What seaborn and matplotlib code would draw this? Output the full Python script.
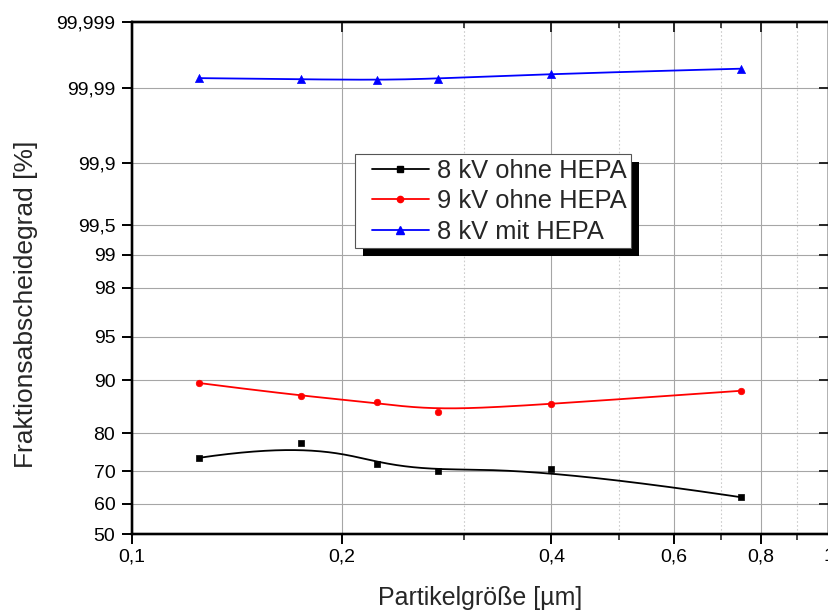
import math
import numpy as np
import pandas as pd
import matplotlib
matplotlib.use("Agg")
import matplotlib.pyplot as plt
import seaborn as sns
from matplotlib.ticker import FixedLocator, FixedFormatter, NullFormatter, NullLocator
from matplotlib.lines import Line2D
from matplotlib.legend_handler import HandlerLine2D
from matplotlib.patches import Rectangle

# ---------------- data ----------------
size_um = [0.125, 0.175, 0.225, 0.275, 0.4, 0.75]
eff_8kV_ohne = [73.8, 77.7, 72.2, 70.0, 70.7, 62.1]
eff_9kV_ohne = [89.6, 87.5, 86.4, 84.6, 86.1, 88.4]
eff_8kV_mit = [99.9927, 99.9924, 99.9922, 99.99255, 99.9937, 99.9947]
series_names = ["8 kV ohne HEPA", "9 kV ohne HEPA", "8 kV mit HEPA"]

x_ticks = [0.1, 0.2, 0.4, 0.6, 0.8, 1.0]
x_tick_labels = ["0,1", "0,2", "0,4", "0,6", "0,8", "1"]
x_minor_ticks = [0.3, 0.5, 0.7, 0.9]
y_ticks = [50, 60, 70, 80, 90, 95, 98, 99, 99.5, 99.9, 99.99, 99.999]
y_tick_labels = ["50", "60", "70", "80", "90", "95", "98", "99", "99,5", "99,9", "99,99", "99,999"]

x_label = "Partikelgröße [µm]"
y_label = "Fraktionsabscheidegrad [%]"

# ---------------- probability (probit) scale ----------------
_erf = np.vectorize(math.erf)


def norm_cdf(z):
    z = np.asarray(z, dtype=float)
    return 0.5 * (1.0 + _erf(z / math.sqrt(2.0)))


def norm_ppf(p):
    p = np.asarray(p, dtype=float)
    shape = p.shape
    p = np.clip(np.atleast_1d(p).astype(float), 1e-12, 1 - 1e-12)
    a = [-3.969683028665376e+01, 2.209460984245205e+02, -2.759285104469687e+02,
         1.383577518672690e+02, -3.066479806614716e+01, 2.506628277459239e+00]
    b = [-5.447609879822406e+01, 1.615858368580409e+02, -1.556989798598866e+02,
         6.680131188771972e+01, -1.328068155288572e+01]
    c = [-7.784894002430293e-03, -3.223964580411365e-01, -2.400758277161838e+00,
         -2.549732539343734e+00, 4.374664141464968e+00, 2.938163982698783e+00]
    d = [7.784695709041462e-03, 3.224671290700398e-01, 2.445134137142996e+00,
         3.754408661907416e+00]
    plow = 0.02425
    phigh = 1 - plow
    x = np.empty_like(p)
    lo = p < plow
    hi = p > phigh
    mid = ~(lo | hi)
    q = np.sqrt(-2 * np.log(p[lo]))
    x[lo] = (((((c[0]*q+c[1])*q+c[2])*q+c[3])*q+c[4])*q+c[5]) / ((((d[0]*q+d[1])*q+d[2])*q+d[3])*q+1)
    q = p[mid] - 0.5
    r = q * q
    x[mid] = (((((a[0]*r+a[1])*r+a[2])*r+a[3])*r+a[4])*r+a[5])*q / (((((b[0]*r+b[1])*r+b[2])*r+b[3])*r+b[4])*r+1)
    q = np.sqrt(-2 * np.log(1 - p[hi]))
    x[hi] = -(((((c[0]*q+c[1])*q+c[2])*q+c[3])*q+c[4])*q+c[5]) / ((((d[0]*q+d[1])*q+d[2])*q+d[3])*q+1)
    return x.reshape(shape)


def fwd(y):
    return norm_ppf(np.asarray(y, dtype=float) / 100.0)


def inv(z):
    return 100.0 * norm_cdf(z)


def bspline_curve(xs, ys, n=300, k=3):
    """Clamped cubic B-spline (Origin style) with the data points as control points."""
    u = np.log10(np.asarray(xs, dtype=float))
    v = fwd(ys)
    P = np.column_stack([u, v])
    m = len(P)
    knots = np.concatenate([np.zeros(k), np.linspace(0, 1, m - k + 1), np.ones(k)])
    t = np.linspace(0, 1, n)
    N = np.zeros((n, len(knots) - 1))
    for j in range(len(knots) - 1):
        N[:, j] = (knots[j] <= t) & (t < knots[j + 1])
    N[t >= 1.0, :] = 0
    N[t >= 1.0, m - 1] = 1
    for deg in range(1, k + 1):
        Nn = np.zeros((n, len(knots) - 1 - deg))
        for j in range(len(knots) - 1 - deg):
            d1 = knots[j + deg] - knots[j]
            d2 = knots[j + deg + 1] - knots[j + 1]
            term = np.zeros(n)
            if d1 > 0:
                term += (t - knots[j]) / d1 * N[:, j]
            if d2 > 0:
                term += (knots[j + deg + 1] - t) / d2 * N[:, j + 1]
            Nn[:, j] = term
        N = Nn
    C = N @ P
    return 10 ** C[:, 0], inv(C[:, 1])


# ---------------- figure ----------------
sns.set_theme(style="ticks")
plt.rcParams["font.family"] = ["Liberation Sans", "DejaVu Sans"]

fig = plt.figure(figsize=(8.29, 6.15), dpi=100)
ax = fig.add_axes([0.1592, 0.1312, 0.8402, 0.833])

df = pd.DataFrame({
    "size": size_um * 3,
    "eff": eff_8kV_ohne + eff_9kV_ohne + eff_8kV_mit,
    "series": [series_names[0]] * 6 + [series_names[1]] * 6 + [series_names[2]] * 6,
})

colors = {series_names[0]: "#000000", series_names[1]: "#ff0000", series_names[2]: "#0000ff"}
markers = {series_names[0]: "s", series_names[1]: "o", series_names[2]: "^"}
msizes = {series_names[0]: 20, series_names[1]: 22, series_names[2]: 34}

ax.set_xscale("log")
ax.set_yscale("function", functions=(fwd, inv))

for name in series_names:
    sub = df[df["series"] == name]
    cx, cy = bspline_curve(sub["size"].values, sub["eff"].values)
    ax.plot(cx, cy, color=colors[name], lw=1.3, zorder=3)
    sns.scatterplot(data=sub, x="size", y="eff", ax=ax, color=colors[name],
                    marker=markers[name], s=msizes[name], edgecolor=colors[name],
                    linewidth=0.5, zorder=4, legend=False)

ax.set_xlim(0.1, 1.0)
ax.set_ylim(50, 99.999)

ax.xaxis.set_major_locator(FixedLocator(x_ticks))
ax.xaxis.set_major_formatter(FixedFormatter(x_tick_labels))
ax.xaxis.set_minor_locator(FixedLocator(x_minor_ticks))
ax.xaxis.set_minor_formatter(NullFormatter())
ax.yaxis.set_major_locator(FixedLocator(y_ticks))
ax.yaxis.set_major_formatter(FixedFormatter(y_tick_labels))
ax.yaxis.set_minor_locator(NullLocator())

ax.set_axisbelow(True)
ax.grid(which="major", axis="both", color="#a6a6a6", lw=0.8)
ax.grid(which="minor", axis="x", color="#cccccc", lw=0.8, ls=(0, (1.5, 2.0)))

for sp in ax.spines.values():
    sp.set_linewidth(1.6)
    sp.set_color("black")

ax.tick_params(axis="both", which="major", direction="out", length=7, width=1.4,
               labelsize=14, colors="black")
ax.tick_params(axis="x", which="minor", direction="out", length=4.5, width=1.2)
ax.tick_params(axis="y", which="major", pad=5)
ax.tick_params(axis="x", which="major", pad=3)

ax.set_xlabel(x_label, fontsize=18)
ax.set_ylabel(y_label, fontsize=19)
ax.xaxis.set_label_coords(0.5, -0.1)
ax.yaxis.set_label_coords(-0.135, 0.4495)

# top and right axes with inward ticks
axR = ax.twinx()
axR.set_yscale("function", functions=(fwd, inv))
axR.set_ylim(50, 99.999)
axR.yaxis.set_major_locator(FixedLocator(y_ticks))
axR.yaxis.set_minor_locator(NullLocator())
axR.tick_params(axis="y", which="major", direction="in", length=7, width=1.4,
                labelright=False)
axT = ax.twiny()
axT.set_xscale("log")
axT.set_xlim(0.1, 1.0)
axT.xaxis.set_major_locator(FixedLocator(x_ticks))
axT.xaxis.set_minor_locator(FixedLocator(x_minor_ticks))
axT.xaxis.set_minor_formatter(NullFormatter())
axT.tick_params(axis="x", which="major", direction="in", length=7, width=1.4, labeltop=False)
axT.tick_params(axis="x", which="minor", direction="in", length=4.5, width=1.2)
for a in (axR, axT):
    for sp in a.spines.values():
        sp.set_linewidth(1.6)
        sp.set_color("black")

# legend
handles = [Line2D([], [], color=colors[n], marker=markers[n], lw=1.3,
                  markersize=4.5 if markers[n] != "^" else 6) for n in series_names]
leg = axT.legend(handles, series_names, loc="upper left", bbox_to_anchor=(0.32, 0.742),
                 borderaxespad=0, fontsize=18.4, frameon=True, fancybox=False,
                 framealpha=1, edgecolor="#555555", borderpad=0.17, labelspacing=0.26,
                 handlelength=2.73, handletextpad=0.31,
                 handler_map={Line2D: HandlerLine2D(xpad=0.5)})
leg.get_frame().set_linewidth(0.8)
leg.set_zorder(10)

fig.canvas.draw()
bb = leg.get_window_extent()
off = 8
inv_tr = axT.transAxes.inverted()
(x0, y0) = inv_tr.transform((bb.x0 + off, bb.y0 - off))
(x1, y1) = inv_tr.transform((bb.x1 + off, bb.y1 - off))
shadow = Rectangle((x0, y0), x1 - x0, y1 - y0, transform=axT.transAxes,
                   facecolor="black", edgecolor="none", zorder=9, clip_on=False)
axT.add_patch(shadow)

fig.savefig("out.png", dpi=100)
